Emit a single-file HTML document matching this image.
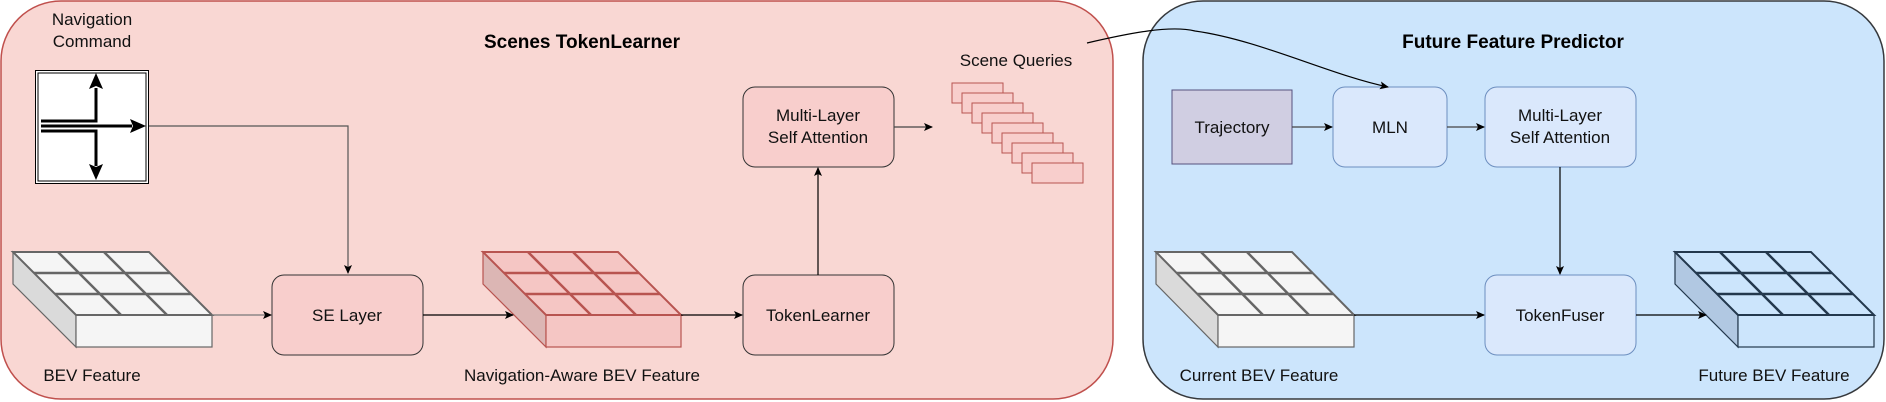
<!DOCTYPE html>
<html><head><meta charset="utf-8"><style>
html,body{margin:0;padding:0;background:#fff;}
svg{display:block;font-family:"Liberation Sans",sans-serif;}
</style></head><body>
<svg width="1886" height="402" viewBox="0 0 1886 402" xmlns="http://www.w3.org/2000/svg">
<defs>
<marker id="ar" markerWidth="10" markerHeight="10" refX="8" refY="5" orient="auto" markerUnits="userSpaceOnUse"><path d="M0,1 L9,5 L0,9 L2,5z" fill="#000"/></marker>
<marker id="big" markerWidth="20" markerHeight="20" refX="16" refY="8" orient="auto" markerUnits="userSpaceOnUse"><path d="M0,0 L16,8 L0,16 L4,8z" fill="#000"/></marker>
</defs>
<rect x="1" y="1" width="1112" height="398" rx="60" fill="#f9d7d3" stroke="#c0504d" stroke-width="1.5"/>
<rect x="1143" y="1" width="741" height="398" rx="60" fill="#cce5fc" stroke="#36393d" stroke-width="1.5"/>
<text x="582" y="48" font-size="19" font-weight="bold" text-anchor="middle">Scenes TokenLearner</text>
<text x="1513" y="48" font-size="19" font-weight="bold" text-anchor="middle">Future Feature Predictor</text>
<g font-size="17" text-anchor="middle" fill="#111">
<text x="92" y="25">Navigation</text><text x="92" y="47">Command</text>
<text x="92" y="381">BEV Feature</text>
<text x="582" y="381">Navigation-Aware BEV Feature</text>
<text x="1016" y="66">Scene Queries</text>
<text x="1259" y="381">Current BEV Feature</text>
<text x="1774" y="381">Future BEV Feature</text>
</g>
<!-- nav box -->
<rect x="35.5" y="70.5" width="113" height="113" fill="#fff" stroke="#000"/>
<rect x="38" y="73" width="108" height="108" fill="none" stroke="#000"/>
<g stroke="#000" stroke-width="3" fill="none">
<path d="M41,121 H96 V88"/><path d="M41,131 H96 V166"/><path d="M41,126 H132"/>
</g>
<path d="M96,73 L103,89 L96,86 L89,89z M96,180 L103,164 L96,167 L89,164z M146,126 L130,119 L133,126 L130,133z" fill="#000"/>
<path d="M149,126 H348 V273" fill="none" stroke="#555" stroke-width="1.2" marker-end="url(#ar)"/>
<!-- boxes -->
<g stroke="#333" stroke-width="1" fill="#f8cecc">
<rect x="272" y="275" width="151" height="80" rx="12"/>
<rect x="743" y="275" width="151" height="80" rx="12"/>
<rect x="743" y="87" width="151" height="80" rx="12"/>
</g>
<rect x="1172" y="90" width="120" height="74" fill="#d0cee2" stroke="#56517e"/>
<g stroke="#6c8ebf" stroke-width="1" fill="#dae8fc">
<rect x="1333" y="87" width="114" height="80" rx="12"/>
<rect x="1485" y="87" width="151" height="80" rx="12"/>
<rect x="1485" y="275" width="151" height="80" rx="12"/>
</g>
<g font-size="17" text-anchor="middle" fill="#111">
<text x="347" y="321">SE Layer</text>
<text x="818" y="321">TokenLearner</text>
<text x="818" y="121">Multi-Layer</text><text x="818" y="143">Self Attention</text>
<text x="1232" y="133">Trajectory</text>
<text x="1390" y="133">MLN</text>
<text x="1560" y="121">Multi-Layer</text><text x="1560" y="143">Self Attention</text>
<text x="1560" y="321">TokenFuser</text>
</g>
<!-- scene queries -->
<g fill="#f8cecc" stroke="#b85450">
<rect x="952" y="83" width="51" height="20"/><rect x="962" y="93" width="51" height="20"/><rect x="972" y="103" width="51" height="20"/>
<rect x="982" y="113" width="51" height="20"/><rect x="992" y="123" width="51" height="20"/><rect x="1002" y="133" width="51" height="20"/>
<rect x="1012" y="143" width="51" height="20"/><rect x="1022" y="153" width="51" height="20"/><rect x="1032" y="163" width="51" height="20"/>
</g>
<!-- BEV cubes -->
<g id="cubes" stroke-width="1.2">
<!-- left gray -->
<g stroke="#666"><polygon points="13,252 76,315 76,347 13,284" fill="#dadada"/><rect x="76" y="315" width="136" height="32" fill="#f5f5f5"/><polygon points="13,252 149,252 212,315 76,315" fill="#f5f5f5"/>
<path d="M34,273 H170 M55,294 H191 M58,252 L121,315 M104,252 L167,315" stroke-width="2.5"/><polygon points="13,252 149,252 212,315 76,315" fill="none" stroke-width="2"/></g>
<!-- pink -->
<g stroke="#b85450"><polygon points="483,252 546,315 546,347 483,284" fill="#dcb6b4"/><rect x="546" y="315" width="135" height="32" fill="#f5c6c4"/><polygon points="483,252 618,252 681,315 546,315" fill="#f5c6c4"/>
<path d="M504,273 H639 M525,294 H660 M528,252 L591,315 M573,252 L636,315" stroke-width="2.5"/><polygon points="483,252 618,252 681,315 546,315" fill="none" stroke-width="2"/></g>
<!-- current -->
<g stroke="#666"><polygon points="1156,252 1218,315 1218,347 1156,284" fill="#dadada"/><rect x="1218" y="315" width="136" height="32" fill="#f5f5f5"/><polygon points="1156,252 1292,252 1354,315 1218,315" fill="#f5f5f5"/>
<path d="M1177,273 H1313 M1197,294 H1333 M1201,252 L1263,315 M1247,252 L1309,315" stroke-width="2.5"/><polygon points="1156,252 1292,252 1354,315 1218,315" fill="none" stroke-width="2"/></g>
<!-- future -->
<g stroke="#23384d"><polygon points="1675,252 1738,315 1738,347 1675,284" fill="#b1c8e2"/><rect x="1738" y="315" width="136" height="32" fill="#cce5fc"/><polygon points="1675,252 1811,252 1874,315 1738,315" fill="#cce5fc"/>
<path d="M1696,273 H1832 M1717,294 H1853 M1720,252 L1783,315 M1766,252 L1829,315" stroke-width="2.5"/><polygon points="1675,252 1811,252 1874,315 1738,315" fill="none" stroke-width="2"/></g>
</g>
<!-- arrows -->
<g fill="none" stroke="#000" stroke-width="1.2">
<path d="M212,315 H271" stroke="#777" marker-end="url(#ar)"/>
<path d="M423,315 H513" marker-end="url(#ar)"/>
<path d="M681,315 H742" marker-end="url(#ar)"/>
<path d="M818,275 V168" marker-end="url(#ar)"/>
<path d="M894,127 H932" stroke="#444" marker-end="url(#ar)"/>
<path d="M1087,43 C1130,33 1170,25 1195,31 C1260,40 1330,75 1388,87" marker-end="url(#ar)"/>
<path d="M1292,127 H1332" stroke="#444" marker-end="url(#ar)"/>
<path d="M1447,127 H1484" stroke="#444" marker-end="url(#ar)"/>
<path d="M1560,167 V274" marker-end="url(#ar)"/>
<path d="M1354,315 H1484" marker-end="url(#ar)"/>
<path d="M1636,315 H1706" marker-end="url(#ar)"/>
</g>
</svg>
</body></html>
